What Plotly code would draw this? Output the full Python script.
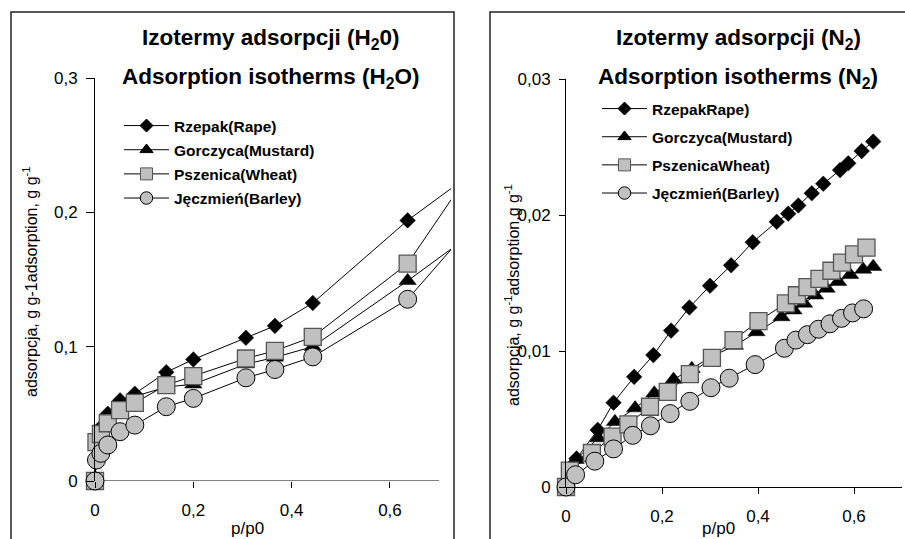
import plotly.graph_objects as go

W, H = 905, 539

# ---------------- data: H2O (left) ----------------
h2o_p = [0, 0.003, 0.012, 0.026, 0.051, 0.081, 0.145, 0.2, 0.307, 0.366, 0.443, 0.636, 0.8]
h2o_rzepak = [0, 0.03, 0.04, 0.05, 0.06, 0.065, 0.081, 0.0905, 0.1066, 0.1155, 0.1325, 0.194, 0.238]
h2o_gorczyca = [0, 0.029, 0.038, 0.048, 0.057, 0.063, 0.07, 0.072, 0.087, 0.092, 0.1, 0.149, 0.193]
h2o_pszenica = [0, 0.029, 0.035, 0.043, 0.0528, 0.0582, 0.0714, 0.078, 0.0912, 0.0969, 0.1073, 0.1618, 0.25]
h2o_jeczmien = [0, 0.0156, 0.0206, 0.0268, 0.0367, 0.0416, 0.0553, 0.0615, 0.0768, 0.083, 0.0924, 0.1353, 0.204]

# ---------------- data: N2 (right) ----------------
n2_rzepak_p = [0, 0.022, 0.066, 0.099, 0.142, 0.182, 0.219, 0.257, 0.3, 0.344, 0.389, 0.439, 0.463, 0.484, 0.512, 0.536, 0.571, 0.588, 0.616, 0.64]
n2_rzepak = [0, 0.0021, 0.0042, 0.0062, 0.0081, 0.0097, 0.0115, 0.0132, 0.0148, 0.0163, 0.018, 0.0195, 0.0201, 0.0207, 0.0216, 0.0223, 0.0233, 0.0238, 0.0247, 0.0254]
n2_gorczyca_p = [0, 0.02, 0.067, 0.102, 0.144, 0.184, 0.224, 0.262, 0.304, 0.352, 0.397, 0.449, 0.474, 0.496, 0.519, 0.543, 0.567, 0.592, 0.619, 0.64]
n2_gorczyca = [0, 0.002, 0.0036, 0.0048, 0.0058, 0.0069, 0.0079, 0.0087, 0.0096, 0.0104, 0.0114, 0.0125, 0.013, 0.0135, 0.0141, 0.0146, 0.0151, 0.0156, 0.016, 0.0162]
n2_pszenica_p = [0, 0.008, 0.054, 0.097, 0.13, 0.175, 0.212, 0.258, 0.304, 0.349, 0.401, 0.458, 0.481, 0.503, 0.528, 0.553, 0.575, 0.6, 0.626]
n2_pszenica = [0, 0.0012, 0.0025, 0.0037, 0.0046, 0.0059, 0.007, 0.0083, 0.0095, 0.0108, 0.0122, 0.0135, 0.0141, 0.0147, 0.0153, 0.0159, 0.0165, 0.0171, 0.0176]
n2_jeczmien_p = [0, 0.02, 0.06, 0.099, 0.139, 0.176, 0.217, 0.258, 0.302, 0.34, 0.394, 0.455, 0.479, 0.503, 0.526, 0.55, 0.574, 0.597, 0.62]
n2_jeczmien = [0, 0.0009, 0.0019, 0.0028, 0.0038, 0.0045, 0.0054, 0.0063, 0.0073, 0.008, 0.009, 0.0102, 0.0108, 0.0112, 0.0116, 0.012, 0.0124, 0.0128, 0.0131]

left_names = ["Rzepak(Rape)", "Gorczyca(Mustard)", "Pszenica(Wheat)", "Jęczmień(Barley)"]
right_names = ["RzepakRape)", "Gorczyca(Mustard)", "PszenicaWheat)", "Jęczmień(Barley)"]

FONT = "Liberation Sans, Arial, sans-serif"
GRAY = "#c0c0c0"

styles = [
    dict(symbol="diamond", size=12, color="black", line=dict(color="black", width=0.5)),
    dict(symbol="triangle-up", size=15, color="black", line=dict(color="black", width=0.5)),
    dict(symbol="square", size=17, color=GRAY, line=dict(color="#555555", width=1.3)),
    dict(symbol="circle", size=18, color=GRAY, line=dict(color="black", width=1)),
]
legend_sizes = [10, 11.5, 12, 12.5]


def px2x(px):
    return px / W


def px2y(py):
    return 1 - py / H


fig = go.Figure()

left_series = [(h2o_p, h2o_rzepak), (h2o_p, h2o_gorczyca), (h2o_p, h2o_pszenica), (h2o_p, h2o_jeczmien)]
right_series = [(n2_rzepak_p, n2_rzepak), (n2_gorczyca_p, n2_gorczyca),
                (n2_pszenica_p, n2_pszenica), (n2_jeczmien_p, n2_jeczmien)]

panels = [("x", "y", "legend", "L", left_series, left_names),
          ("x2", "y2", "legend2", "R", right_series, right_names)]

for xa, ya, lg, tag, series, names in panels:
    for i, (xs, ys) in enumerate(series):
        fig.add_trace(go.Scatter(
            x=xs, y=ys, mode="lines+markers", name=names[i], showlegend=False,
            line=dict(color="black", width=1), marker=styles[i],
            xaxis=xa, yaxis=ya, cliponaxis=False))
    # legend entries (smaller symbols, as in the original legend)
    for i in range(len(series)):
        m = dict(styles[i])
        m["size"] = legend_sizes[i]
        m["line"] = dict(color=styles[i]["line"]["color"], width=1)
        fig.add_trace(go.Scatter(
            x=[None], y=[None], mode="lines+markers", name=names[i],
            line=dict(color="black", width=1), marker=m,
            xaxis=xa, yaxis=ya, legend=lg, legendgroup="%s%d" % (tag, i)))

tickfont = dict(family=FONT, size=17, color="black")

axis_common = dict(showgrid=False, zeroline=False, ticks="outside", tickcolor="black",
                   tickfont=tickfont, linecolor="black", linewidth=1, automargin=False)

legend_font = dict(family=FONT, size=15.5, color="black", weight="bold")

fig.update_layout(
    width=W, height=H,
    margin=dict(l=0, r=0, t=0, b=0, autoexpand=False),
    paper_bgcolor="white", plot_bgcolor="rgba(0,0,0,0)",
    separators=", ",
    font=dict(family=FONT, color="black"),
    xaxis=dict(domain=[px2x(95), px2x(451)], range=[0, 0.7242], anchor="y",
               tickvals=[0, 0.2, 0.4, 0.6], ticklen=6, showline=False,
               ticklabelstandoff=8, **axis_common),
    yaxis=dict(domain=[px2y(481), px2y(78)], range=[0, 0.3], anchor="x",
               tickvals=[0, 0.1, 0.2, 0.3], ticklen=8, showline=True,
               ticklabelstandoff=5, **axis_common),
    xaxis2=dict(domain=[px2x(566), px2x(902)], range=[0, 0.7], anchor="y2",
                tickvals=[0, 0.2, 0.4, 0.6], ticklen=6, showline=True,
                ticklabelstandoff=8, **axis_common),
    yaxis2=dict(domain=[px2y(487), px2y(79)], range=[0, 0.03], anchor="x2",
                tickvals=[0, 0.01, 0.02, 0.03], ticklen=6, showline=True,
                ticklabelstandoff=5, **axis_common),
    legend=dict(x=px2x(119), y=px2y(109), xanchor="left", yanchor="top",
                bgcolor="rgba(0,0,0,0)", borderwidth=0, tracegroupgap=1,
                itemwidth=45, font=legend_font),
    legend2=dict(x=px2x(597), y=px2y(92), xanchor="left", yanchor="top",
                 bgcolor="rgba(0,0,0,0)", borderwidth=0, tracegroupgap=5,
                 itemwidth=45, font=legend_font),
)

# panel frames and the left x-axis line (ending at 0.7)
fig.add_shape(type="rect", xref="paper", yref="paper",
              x0=px2x(11), x1=px2x(454), y0=px2y(560), y1=px2y(12),
              line=dict(color="#222222", width=1.5), layer="below")
fig.add_shape(type="rect", xref="paper", yref="paper",
              x0=px2x(490), x1=px2x(930), y0=px2y(560), y1=px2y(12),
              line=dict(color="#222222", width=1.5), layer="below")
fig.add_shape(type="line", xref="x", yref="y", x0=0, x1=0.7, y0=0, y1=0,
              line=dict(color="black", width=1), layer="below")

title_font = dict(family=FONT, size=22.5, color="black", weight="bold")
annos = [
    dict(text="Izotermy adsorpcji (H<sub>2</sub>0)", x=px2x(271), y=px2y(39)),
    dict(text="Adsorption isotherms (H<sub>2</sub>O)", x=px2x(271), y=px2y(78)),
    dict(text="Izotermy adsorpcji (N<sub>2</sub>)", x=px2x(738), y=px2y(39)),
    dict(text="Adsorption isotherms (N<sub>2</sub>)", x=px2x(738), y=px2y(78)),
]
for a in annos:
    fig.add_annotation(xref="paper", yref="paper", xanchor="center", yanchor="middle",
                       showarrow=False, font=title_font, **a)

label_font = dict(family=FONT, size=16, color="black")
fig.add_annotation(xref="paper", yref="paper", x=px2x(30), y=px2y(282),
                   text="adsorpcja, g g-1adsorption, g g<sup>-1</sup>", textangle=-90,
                   showarrow=False, xanchor="center", yanchor="middle", font=label_font)
fig.add_annotation(xref="paper", yref="paper", x=px2x(512), y=px2y(295),
                   text="adsorpcja, g g<sup>-1</sup>adsorption,g g<sup>-1</sup>", textangle=-90,
                   showarrow=False, xanchor="center", yanchor="middle", font=label_font)

xt_font = dict(family=FONT, size=17, color="black")
fig.add_annotation(xref="paper", yref="paper", x=px2x(247), y=px2y(528),
                   text="p/p0", showarrow=False, xanchor="center", yanchor="middle", font=xt_font)
fig.add_annotation(xref="paper", yref="paper", x=px2x(718), y=px2y(528),
                   text="p/p0", showarrow=False, xanchor="center", yanchor="middle", font=xt_font)

fig.write_html("out.html", config={"displayModeBar": False},
               post_script="document.body.style.margin='0';document.body.style.overflow='hidden';")
